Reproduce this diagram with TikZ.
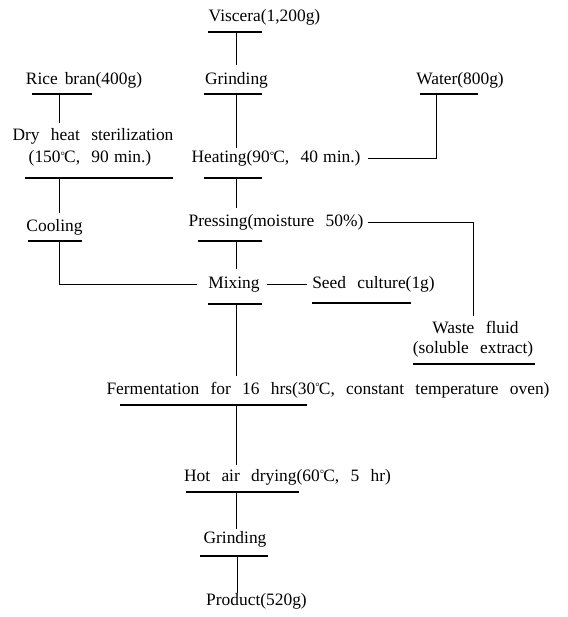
\documentclass[tikz,border=0pt]{standalone}
\usepackage{fontspec}
\setmainfont{Liberation Serif}[WordSpace=2.6]
% degree Celsius: small raised ring before the C
\newcommand{\dgc}{\raisebox{3.2pt}{\fontsize{11}{11}\selectfont °}\kern-0.05em C}
% narrow gap between a number and its unit
\newcommand{\ns}{\hspace{0.3em}}
\begin{document}
\begin{tikzpicture}[x=1pt,y=-1pt,
  lbl/.style={font=\fontsize{17.4}{20}\selectfont, inner sep=0pt,
    text height=12pt, text depth=4pt, anchor=base},
  rule/.style={line width=1.3pt},
  link/.style={line width=1pt}]
\useasboundingbox (0,0) rectangle (567,617);

% process steps
\node[lbl] (vis)    at (264.5,22)  {Viscera(1,200g)};
\node[lbl] (rice)   at (84,85)     {Rice\hspace{0.4em}bran(400g)};
\node[lbl] (grindA) at (236.5,85)  {Grinding};
\node[lbl] (water)  at (460,85)    {Water(800g)};
\node[lbl] (dry)    at (93,141)    {Dry heat sterilization};
\node[lbl] (drytmp) at (90,163)    {(150\dgc, 90\ns min.)};
\node[lbl] (heat)   at (276,163)   {Heating(90\dgc, 40\ns min.)};
\node[lbl] (cool)   at (54.5,232)  {Cooling};
\node[lbl] (press)  at (276,227)   {Pressing(moisture 50\%)};
\node[lbl] (mix)    at (234,288)   {Mixing};
\node[lbl] (seed)   at (373.5,288) {Seed culture(1g)};
\node[lbl] (waste)  at (475.5,333) {Waste fluid};
\node[lbl] (wasteb) at (473,353)   {(soluble extract)};
\node[lbl] (ferm)   at (328,394)   {Fermentation for 16 hrs(30\dgc, constant temperature oven)};
\node[lbl] (hot)    at (287.5,481) {Hot air drying(60\dgc, 5 hr)};
\node[lbl] (grindB) at (235,543)   {Grinding};
\node[lbl] (prod)   at (256.5,605) {Product(520g)};

% rules under the steps
\draw[rule] (208,32)  -- (262,32);
\draw[rule] (32,94)   -- (92,94);
\draw[rule] (204,94)  -- (262,94);
\draw[rule] (420,94)  -- (478,94);
\draw[rule] (25,178)  -- (173,178);
\draw[rule] (204,178) -- (262,178);
\draw[rule] (28,241)  -- (82,241);
\draw[rule] (198,241) -- (262,241);
\draw[rule] (208,304) -- (262,304);
\draw[rule] (312,303) -- (411,303);
\draw[rule] (413,364) -- (535,364);
\draw[rule] (120,405) -- (307,405);
\draw[rule] (186,492) -- (299,492);
\draw[rule] (200,556) -- (268,556);

% connector origins on the rules
\coordinate (visB)    at (236,32);
\coordinate (grindAB) at (236,94);
\coordinate (riceB)   at (59,94);
\coordinate (waterB)  at (436,94);
\coordinate (dryB)    at (59,178);
\coordinate (heatB)   at (236,178);
\coordinate (coolB)   at (59,241);
\coordinate (pressB)  at (236,241);
\coordinate (mixB)    at (236,304);
\coordinate (fermB)   at (236,405);
\coordinate (hotB)    at (236,492);
\coordinate (grindBB) at (237,556);
\coordinate (wdrop)   at (473,316);

% connectors
\draw[link, shorten >=8pt] (visB) -- (visB |- grindA.north);
\draw[link, shorten >=3pt] (grindAB) -- (grindAB |- heat.north);
\draw[link, shorten >=6pt] (riceB) -- (riceB |- dry.north);
\draw[link, shorten >=7pt] (waterB) |- (heat.east);
\draw[link, shorten >=7pt] (dryB) -- (dryB |- cool.north);
\draw[link, shorten >=7pt] (heatB) -- (heatB |- press.north);
\draw[link, shorten >=11pt] (coolB) |- (mix.west);
\draw[link, shorten >=7pt] (pressB) -- (pressB |- mix.north);
\draw[link, shorten <=7pt, shorten >=5pt] (mix.east) -- (seed.west);
\draw[link, shorten <=4pt] (press.east) -| (wdrop);
\draw[link, shorten >=6pt] (mixB) -- (mixB |- ferm.north);
\draw[link, shorten >=4pt] (fermB) -- (fermB |- hot.north);
\draw[link, shorten >=2pt] (hotB) -- (hotB |- grindB.north);
\draw[link] (grindBB) -- (grindBB |- prod.north);
\end{tikzpicture}
\end{document}
